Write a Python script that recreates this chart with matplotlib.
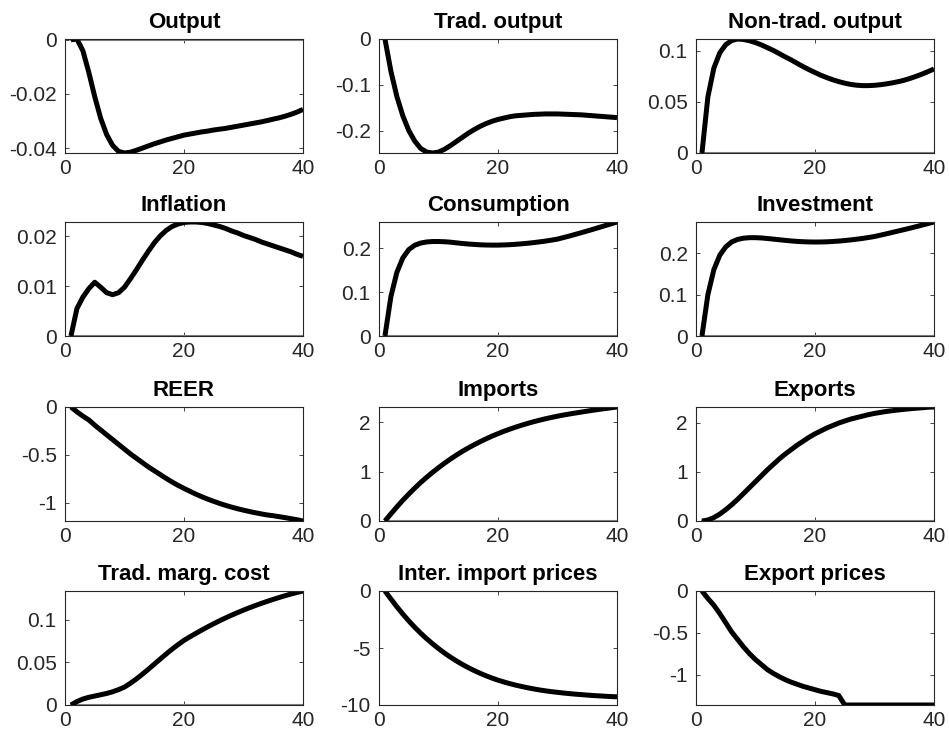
import numpy as np
import matplotlib
matplotlib.use('Agg')
import matplotlib.pyplot as plt

plt.rcParams['font.family'] = ['Liberation Sans', 'DejaVu Sans']
plt.rcParams['axes.unicode_minus'] = False

periods = np.arange(1, 41)

titles = ['Output', 'Trad. output', 'Non-trad. output',
          'Inflation', 'Consumption', 'Investment',
          'REER', 'Imports', 'Exports',
          'Trad. marg. cost', 'Inter. import prices', 'Export prices']

output = [0, 0.0003, -0.004, -0.012, -0.021, -0.029, -0.035, -0.039, -0.0412, -0.0418,
          -0.0415, -0.0408, -0.040, -0.0392, -0.0384, -0.0377, -0.037, -0.0364, -0.0358, -0.0352,
          -0.0348, -0.0344, -0.034, -0.0337, -0.0333, -0.033, -0.0327, -0.0323, -0.0319, -0.0315,
          -0.0311, -0.0307, -0.0303, -0.0298, -0.0293, -0.0288, -0.0282, -0.0275, -0.0267, -0.0257]

trad_output = [0, -0.07, -0.125, -0.167, -0.199, -0.222, -0.238, -0.246, -0.248, -0.246,
               -0.24, -0.232, -0.223, -0.214, -0.205, -0.197, -0.19, -0.184, -0.179, -0.175,
               -0.172, -0.169, -0.167, -0.166, -0.165, -0.164, -0.1635, -0.163, -0.163, -0.163,
               -0.1635, -0.164, -0.1645, -0.165, -0.166, -0.167, -0.168, -0.169, -0.17, -0.171]

nontrad_output = [0, 0.055, 0.083, 0.098, 0.106, 0.110, 0.1115, 0.111, 0.1098, 0.108,
                  0.1057, 0.103, 0.1003, 0.0972, 0.094, 0.091, 0.0877, 0.0845, 0.0815, 0.0787,
                  0.076, 0.0737, 0.0716, 0.0698, 0.0683, 0.0671, 0.0663, 0.0659, 0.0659, 0.0662,
                  0.0668, 0.0676, 0.0686, 0.0698, 0.0712, 0.073, 0.075, 0.0772, 0.0796, 0.0822]

inflation = [0, 0.0055, 0.0078, 0.0095, 0.0108, 0.0098, 0.0087, 0.0083, 0.0087, 0.0098,
             0.0115, 0.0133, 0.0152, 0.017, 0.0187, 0.0201, 0.0212, 0.022, 0.0225, 0.0228,
             0.0229, 0.0229, 0.0228, 0.0226, 0.0223, 0.022, 0.0216, 0.0211, 0.0207, 0.0202,
             0.0198, 0.0194, 0.0189, 0.0185, 0.0181, 0.0177, 0.0173, 0.0169, 0.0164, 0.016]

consumption = [0, 0.09, 0.145, 0.178, 0.197, 0.207, 0.212, 0.2145, 0.2155, 0.2155,
               0.215, 0.214, 0.2125, 0.211, 0.2098, 0.2088, 0.208, 0.2075, 0.2073, 0.2073,
               0.2077, 0.2083, 0.2092, 0.2103, 0.2115, 0.213, 0.2147, 0.2165, 0.2187, 0.221,
               0.2245, 0.228, 0.2318, 0.2356, 0.2395, 0.2435, 0.2476, 0.2517, 0.2558, 0.26]

investment = [0, 0.1, 0.16, 0.195, 0.215, 0.227, 0.233, 0.236, 0.2372, 0.2372,
              0.2365, 0.2352, 0.2337, 0.2322, 0.2307, 0.2293, 0.2282, 0.2274, 0.2269, 0.2267,
              0.2268, 0.2272, 0.228, 0.229, 0.2303, 0.2318, 0.2335, 0.2354, 0.2376, 0.24,
              0.2432, 0.2465, 0.2499, 0.2533, 0.2567, 0.2602, 0.2638, 0.2675, 0.2712, 0.275]

reer = [0, -0.05, -0.095, -0.135, -0.19, -0.24, -0.29, -0.34, -0.39, -0.44,
        -0.49, -0.535, -0.58, -0.625, -0.665, -0.705, -0.745, -0.783, -0.818, -0.85,
        -0.88, -0.91, -0.937, -0.962, -0.985, -1.007, -1.027, -1.045, -1.062, -1.077,
        -1.091, -1.104, -1.116, -1.127, -1.135, -1.145, -1.155, -1.166, -1.177, -1.19]

imports = [0, 0.145, 0.285, 0.42, 0.545, 0.665, 0.78, 0.885, 0.985, 1.08,
           1.17, 1.255, 1.335, 1.41, 1.48, 1.545, 1.607, 1.665, 1.72, 1.77,
           1.818, 1.862, 1.903, 1.942, 1.978, 2.012, 2.043, 2.072, 2.099, 2.124,
           2.147, 2.168, 2.188, 2.207, 2.226, 2.245, 2.262, 2.278, 2.294, 2.31]

exports = [0, 0.02, 0.07, 0.14, 0.23, 0.33, 0.44, 0.56, 0.68, 0.8,
           0.92, 1.04, 1.15, 1.26, 1.36, 1.45, 1.54, 1.62, 1.7, 1.77,
           1.83, 1.89, 1.94, 1.99, 2.03, 2.07, 2.1, 2.13, 2.16, 2.185,
           2.205, 2.225, 2.24, 2.255, 2.268, 2.28, 2.29, 2.3, 2.31, 2.315]

marg_cost = [0, 0.004, 0.007, 0.009, 0.0105, 0.012, 0.0135, 0.0155, 0.018, 0.021,
             0.0255, 0.0305, 0.036, 0.0418, 0.0478, 0.0538, 0.0597, 0.0654, 0.0707, 0.0757,
             0.0799, 0.0839, 0.0878, 0.0916, 0.0952, 0.0987, 0.102, 0.1052, 0.1082, 0.1111,
             0.1139, 0.1165, 0.119, 0.1214, 0.1237, 0.1259, 0.128, 0.13, 0.1318, 0.1335]

import_prices = [0, -0.7, -1.38, -2.02, -2.62, -3.18, -3.7, -4.18, -4.63, -5.05,
                 -5.44, -5.8, -6.13, -6.44, -6.72, -6.98, -7.22, -7.44, -7.64, -7.82,
                 -7.98, -8.13, -8.26, -8.38, -8.49, -8.59, -8.68, -8.76, -8.83, -8.89,
                 -8.95, -9.0, -9.05, -9.09, -9.13, -9.17, -9.2, -9.23, -9.26, -9.28]

export_prices = [0, -0.09, -0.17, -0.27, -0.38, -0.49, -0.58, -0.67, -0.75, -0.82,
                 -0.88, -0.94, -0.985, -1.025, -1.06, -1.09, -1.115, -1.14, -1.16, -1.18,
                 -1.2, -1.215, -1.23, -1.25, -1.363, -1.363, -1.363, -1.363, -1.363, -1.363,
                 -1.363, -1.363, -1.363, -1.363, -1.363, -1.363, -1.363, -1.363, -1.363, -1.363]

series = [output, trad_output, nontrad_output, inflation, consumption, investment,
          reer, imports, exports, marg_cost, import_prices, export_prices]

yticks = [[-0.04, -0.02, 0], [-0.2, -0.1, 0], [0, 0.05, 0.1],
          [0, 0.01, 0.02], [0, 0.1, 0.2], [0, 0.1, 0.2],
          [-1, -0.5, 0], [0, 1, 2], [0, 1, 2],
          [0, 0.05, 0.1], [-10, -5, 0], [-1, -0.5, 0]]

# axes boxes in pixels (MATLAB subplot layout)
col_left = [65, 379, 696]
row_top = [39, 222, 407, 591]
box_w, box_h = 238, 114
W, H = 949, 736

fig = plt.figure(figsize=(W / 100, H / 100), dpi=100)
axcol = '#262626'

for i, (title, y) in enumerate(zip(titles, series)):
    r, c = divmod(i, 3)
    ax = fig.add_axes([col_left[c] / W, 1 - (row_top[r] + box_h) / H, box_w / W, box_h / H])
    y = np.array(y)
    ax.plot(periods, np.zeros_like(periods), color='#808080', linewidth=1.5)
    ax.plot(periods, y, color='black', linewidth=3.6, solid_capstyle='butt')
    ax.set_xlim(0, 40)
    lo, hi = min(y.min(), 0), max(y.max(), 0)
    if title == 'Inter. import prices':
        lo = -10
    ax.set_ylim(lo, hi)
    ax.set_xticks([0, 20, 40])
    ax.set_yticks(yticks[i])
    ax.set_yticklabels(['%g' % v for v in yticks[i]])
    ax.set_title(title, fontsize=16, fontweight='bold', pad=8)
    ax.tick_params(direction='in', length=3, width=0.6, labelsize=15,
                   colors=axcol, labelcolor=axcol, top=True, right=True)
    ax.tick_params(axis='x', pad=4)
    ax.tick_params(axis='y', pad=6)
    for sp in ax.spines.values():
        sp.set_color(axcol)
        sp.set_linewidth(0.8)

fig.savefig('out.png', dpi=100)
